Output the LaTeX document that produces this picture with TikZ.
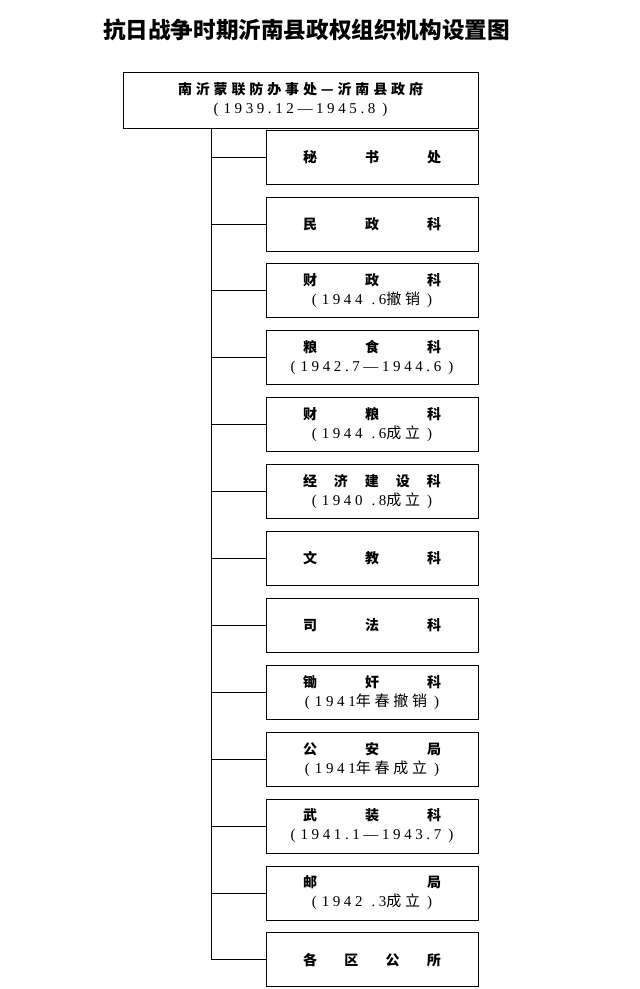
\documentclass[tikz,border=0pt]{standalone}
\usepackage{fontspec}
\newfontfamily\zhfont{Noto Sans CJK SC}
\newfontfamily\zhwide{Noto Sans CJK SC}[LetterSpace=25]
\newfontfamily\numfont{Liberation Serif}[LetterSpace=24]
\usetikzlibrary{positioning}
\newcommand{\zh}[1]{{\zhwide #1}}
\newcommand{\dates}[1]{{\fontsize{15}{19}\numfont (\hspace{5pt}#1\hspace{7pt})}}
\newcommand{\spread}[1]{\hbox to 138pt{\zhfont\bfseries #1}}
\tikzset{
  headbox/.style={
    draw,
    line width=0.8pt,
    minimum width=355pt,
    minimum height=56pt,
    inner sep=0pt,
    align=center,
    font=\fontsize{14}{19}\selectfont
  },
  orgbox/.style={
    draw,
    line width=0.8pt,
    minimum width=212pt,
    minimum height=54pt,
    inner sep=0pt,
    align=center,
    font=\fontsize{14}{19}\selectfont
  },
  orgline/.style={line width=0.8pt}
}

\begin{document}
\begin{tikzpicture}[x=1pt, y=-1pt, node distance=12.1pt]
  \useasboundingbox (0,0) rectangle (640,989);
  \node[font=\fontsize{22.6}{26}\selectfont\zhfont\bfseries] (title) at (306.5,30) {抗日战争时期沂南县政权组织机构设置图};

  \node[headbox] (govt) at (300.5,100) {\hbox to 245pt{\zhfont\bfseries 南\hfill 沂\hfill 蒙\hfill 联\hfill 防\hfill 办\hfill 事\hfill 处\hfill —\hfill 沂\hfill 南\hfill 县\hfill 政\hfill 府}\\ \dates{1939.12—1945.8}};

  \node[orgbox] (mishu) at (372,157) {\spread{秘\hfill 书\hfill 处}};
  \node[orgbox, below=of mishu] (minzheng) {\spread{民\hfill 政\hfill 科}};
  \node[orgbox, below=of minzheng] (caizheng) {\spread{财\hfill 政\hfill 科}\\ \dates{1944\hspace{9pt}.6\zh{撤销}}};
  \node[orgbox, below=of caizheng] (liangshi) {\spread{粮\hfill 食\hfill 科}\\ \dates{1942.7—1944.6}};
  \node[orgbox, below=of liangshi] (cailiang) {\spread{财\hfill 粮\hfill 科}\\ \dates{1944\hspace{9pt}.6\zh{成立}}};
  \node[orgbox, below=of cailiang] (jingji) {\spread{经\hfill 济\hfill 建\hfill 设\hfill 科}\\ \dates{1940\hspace{9pt}.8\zh{成立}}};
  \node[orgbox, below=of jingji] (wenjiao) {\spread{文\hfill 教\hfill 科}};
  \node[orgbox, below=of wenjiao] (sifa) {\spread{司\hfill 法\hfill 科}};
  \node[orgbox, below=of sifa] (chujian) {\spread{锄\hfill 奸\hfill 科}\\ \dates{1941\zh{年春撤销}}};
  \node[orgbox, below=of chujian] (gongan) {\spread{公\hfill 安\hfill 局}\\ \dates{1941\zh{年春成立}}};
  \node[orgbox, below=of gongan] (wuzhuang) {\spread{武\hfill 装\hfill 科}\\ \dates{1941.1—1943.7}};
  \node[orgbox, below=of wuzhuang] (youju) {\spread{邮\hfill 局}\\ \dates{1942\hspace{9pt}.3\zh{成立}}};
  \node[orgbox, below=of youju] (quzhu) {\spread{各\hfill 区\hfill 公\hfill 所}};

  % trunk and branches
  \coordinate (trunk) at (211,128);
  \draw[orgline] (trunk) -- (trunk |- quzhu.west);
  \foreach \unit in {mishu,minzheng,caizheng,liangshi,cailiang,jingji,wenjiao,sifa,chujian,gongan,wuzhuang,youju,quzhu}
    \draw[orgline] (trunk |- \unit.west) -- (\unit.west);
\end{tikzpicture}
\end{document}
